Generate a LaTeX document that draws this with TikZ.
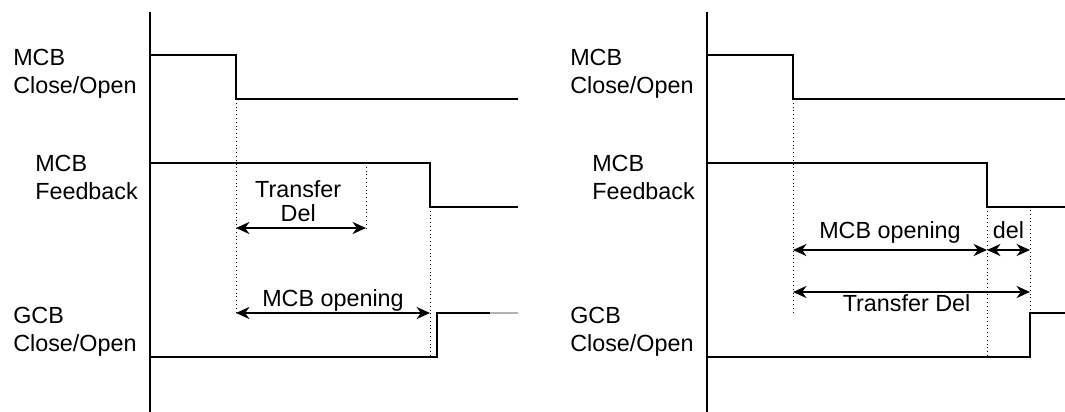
\documentclass[tikz,border=0pt]{standalone}
\usepackage{fontspec}
\setmainfont{Liberation Sans}
\usetikzlibrary{arrows.meta}

\tikzset{
  axis/.style={line width=1.1pt},
  sig/.style={line width=1.1pt},
  guide/.style={dotted, line width=0.7pt},
  span/.style={{Stealth[length=9.5pt,width=8.5pt,inset=3pt]}-{Stealth[length=9.5pt,width=8.5pt,inset=3pt]}, line width=1.8pt},
  lbl/.style={align=left, inner sep=0pt, font=\fontsize{16.6}{19.9}\selectfont},
}

\begin{document}
\begin{tikzpicture}[x=0.025cm, y=-0.025cm]
  \useasboundingbox (0,0) rectangle (1065,412);
  \def\hiA{55}  \def\loA{99}
  \def\hiB{163} \def\loB{207}
  \def\hiC{313} \def\loC{357}

  % both panels: axis, names and the three signals
  \foreach \ox/\p/\tb/\tc/\xg/\xe in {0/L/430/437/490/518, 557/R/987/1030/1065/1065}
  {
    \coordinate (\p-top) at (150+\ox,12);
    \coordinate (\p-bot) at (150+\ox,412);
    \draw[axis] (\p-top) -- (\p-bot);

    \node[lbl, anchor=north west] (\p-mcbcmd) at (13+\ox,49)  {MCB\\Close/Open};
    \node[lbl, anchor=north west] (\p-mcbfb)  at (35+\ox,155) {MCB\\Feedback};
    \node[lbl, anchor=north west] (\p-gcbcmd) at (13+\ox,307) {GCB\\Close/Open};

    \coordinate (\p-a0) at (150+\ox,\hiA);
    \coordinate (\p-a1) at (236+\ox,\hiA);
    \coordinate (\p-a2) at (\xe,\loA);
    \draw[sig] (\p-a0) -- (\p-a1) |- (\p-a2);

    \coordinate (\p-b0) at (150+\ox,\hiB);
    \coordinate (\p-b1) at (\tb,\hiB);
    \coordinate (\p-b2) at (\xe,\loB);
    \draw[sig] (\p-b0) -- (\p-b1) |- (\p-b2);

    \coordinate (\p-c0) at (150+\ox,\loC);
    \coordinate (\p-c1) at (\tc,\loC);
    \coordinate (\p-c2) at (\xg,\hiC);
    \draw[sig] (\p-c0) -- (\p-c1) |- (\p-c2);
  }
  \coordinate (L-c3) at (518,\hiC);
  \draw[sig, gray!60, line width=0.8pt] (L-c2) -- (L-c3);

  % left panel timing
  \coordinate (L-td) at (366,\hiB);
  \coordinate (L-tdx) at (366,228);
  \draw[guide] (L-a1 |- L-a2) -- (L-a1 |- L-c2);
  \draw[guide] (L-td) -- (L-tdx);
  \draw[guide] (L-b1 |- L-b2) -- (L-b1 |- L-c0);
  \draw[span] (L-a1 |- L-tdx) -- (L-tdx)
    node[lbl, align=center, midway, above=3.5pt, xshift=-2pt] (L-tdlbl) {Transfer\\[-2.5pt]Del};
  \draw[span] (L-a1 |- L-c2) -- (L-b1 |- L-c2)
    node[lbl, midway, anchor=base, yshift=4.3pt] (L-oplbl) {MCB opening};

  % right panel timing
  \coordinate (R-op) at (987,250);
  \coordinate (R-dl) at (1030,250);
  \coordinate (R-tx) at (1030,292);
  \draw[guide] (R-a1 |- R-a2) -- (R-a1 |- R-c2);
  \draw[guide] (R-b1 |- R-b2) -- (R-b1 |- R-c0);
  \draw[guide] (1030,210) -- (R-c1 |- R-c2);
  \draw[span] (R-a1 |- R-op) -- (R-op)
    node[lbl, midway, anchor=base, yshift=8.5pt] (R-oplbl) {MCB opening};
  \draw[span] (R-op) -- (R-dl)
    node[lbl, midway, anchor=base, yshift=8.5pt] (R-dllbl) {del};
  \draw[span] (R-a1 |- R-tx) -- (R-tx)
    node[lbl, midway, anchor=base, yshift=-14.2pt, xshift=-3.5pt] (R-txlbl) {Transfer Del};
\end{tikzpicture}
\end{document}
